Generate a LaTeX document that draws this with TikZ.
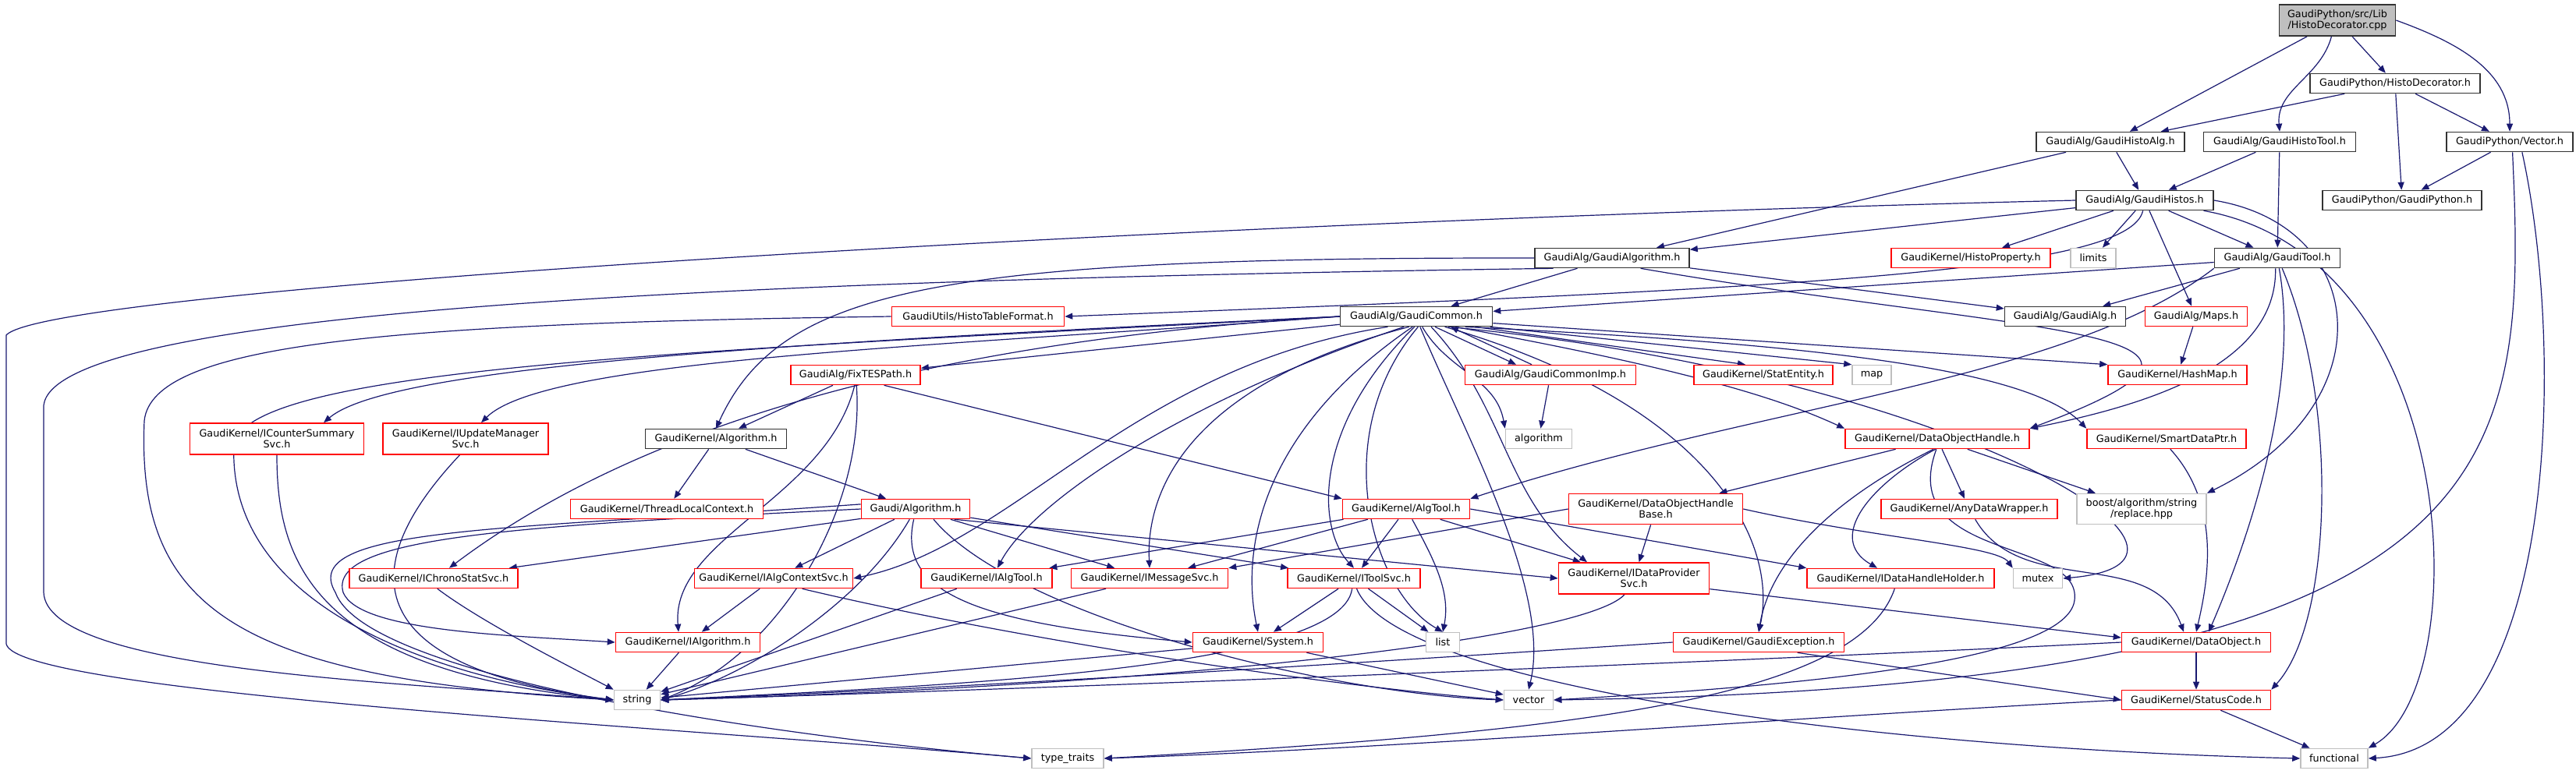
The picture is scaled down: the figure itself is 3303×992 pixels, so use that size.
\documentclass[tikz,border=0pt]{standalone}
\usepackage{fontspec}
\setmainfont{DejaVu Sans}
\usetikzlibrary{arrows.meta, backgrounds}
\definecolor{edgeblue}{HTML}{191970}
\definecolor{sysgray}{HTML}{BFBFBF}
\tikzset{
  hdr/.style={draw=red, line width=0.8pt, fill=white, inner sep=1pt, minimum height=12.5pt, align=center, font=\fontsize{6.4}{7.2}\selectfont},
  dochdr/.style={hdr, draw=black!80},
  syshdr/.style={hdr, draw=sysgray},
  roothdr/.style={hdr, draw=black!80, fill=sysgray},
  inc/.style={draw=edgeblue, line width=0.6pt, -{Triangle[length=5pt,width=4pt]}},
}

\begin{document}
\begin{tikzpicture}[x=0.5pt,y=-0.5pt]
            \useasboundingbox (0,0) rectangle (3303,992);
            \node[roothdr, minimum width=74.5pt, minimum height=20pt] (root) at (2997,26) {GaudiPython/src/Lib\\/HistoDecorator.cpp};
            \node[dochdr, minimum width=109pt] (hdec) at (3071,107) {GaudiPython/HistoDecorator.h};
            \node[dochdr, minimum width=95pt] (histoalg) at (2706,182) {GaudiAlg/GaudiHistoAlg.h};
            \node[dochdr, minimum width=97.5pt] (histotool) at (2923,182) {GaudiAlg/GaudiHistoTool.h};
            \node[dochdr, minimum width=81pt] (pyvector) at (3218,182) {GaudiPython/Vector.h};
            \node[dochdr, minimum width=88pt] (histos) at (2750,257) {GaudiAlg/GaudiHistos.h};
            \node[dochdr, minimum width=102pt] (gaudipy) at (3080,257) {GaudiPython/GaudiPython.h};
            \node[dochdr, minimum width=99pt] (galgorithm) at (2067,331) {GaudiAlg/GaudiAlgorithm.h};
            \node[hdr, minimum width=102pt] (histoprop) at (2527,331) {GaudiKernel/HistoProperty.h};
            \node[syshdr, minimum width=29pt] (limits) at (2684,331) {limits};
            \node[dochdr, minimum width=80.5pt] (gtool) at (2920,331) {GaudiAlg/GaudiTool.h};
            \node[hdr, minimum width=110.5pt] (histotab) at (1254,406) {GaudiUtils/HistoTableFormat.h};
            \node[dochdr, minimum width=97.5pt] (gcommon) at (1816,406) {GaudiAlg/GaudiCommon.h};
            \node[dochdr, minimum width=77.5pt] (galg) at (2648,406) {GaudiAlg/GaudiAlg.h};
            \node[hdr, minimum width=65.5pt] (maps) at (2816,406) {GaudiAlg/Maps.h};
            \node[hdr, minimum width=83pt] (fixtes) at (1097,481) {GaudiAlg/FixTESPath.h};
            \node[hdr, minimum width=109.5pt] (commonimp) at (1988,481) {GaudiAlg/GaudiCommonImp.h};
            \node[hdr, minimum width=89pt] (statentity) at (2261,481) {GaudiKernel/StatEntity.h};
            \node[syshdr, minimum width=25pt] (map) at (2400,481) {map};
            \node[hdr, minimum width=89pt] (hashmap) at (2792,481) {GaudiKernel/HashMap.h};
            \node[hdr, minimum width=111.5pt, minimum height=20pt] (icounter) at (355,563) {GaudiKernel/ICounterSummary\\Svc.h};
            \node[hdr, minimum width=106pt, minimum height=20pt] (iupdate) at (597,563) {GaudiKernel/IUpdateManager\\Svc.h};
            \node[dochdr, minimum width=90.5pt] (kalgorithm) at (918,563) {GaudiKernel/Algorithm.h};
            \node[syshdr, minimum width=42.5pt] (algorithm) at (1973,563) {algorithm};
            \node[hdr, minimum width=118pt] (dohandle) at (2484,563) {GaudiKernel/DataObjectHandle.h};
            \node[hdr, minimum width=102pt] (smartptr) at (2778,563) {GaudiKernel/SmartDataPtr.h};
            \node[hdr, minimum width=123.5pt] (tlc) at (855,653) {GaudiKernel/ThreadLocalContext.h};
            \node[hdr, minimum width=69.5pt] (galgo) at (1174,653) {Gaudi/Algorithm.h};
            \node[hdr, minimum width=81.5pt] (algtool) at (1803,653) {GaudiKernel/AlgTool.h};
            \node[hdr, minimum width=111.5pt, minimum height=19.5pt] (dohbase) at (2123,653) {GaudiKernel/DataObjectHandle\\Base.h};
            \node[hdr, minimum width=113pt] (anydata) at (2525,653) {GaudiKernel/AnyDataWrapper.h};
            \node[syshdr, minimum width=83pt, minimum height=19.5pt] (replace) at (2746,653) {boost/algorithm/string\\/replace.hpp};
            \node[hdr, minimum width=108pt] (ichrono) at (556,742) {GaudiKernel/IChronoStatSvc.h};
            \node[hdr, minimum width=101.5pt] (ialgctx) at (992,742) {GaudiKernel/IAlgContextSvc.h};
            \node[hdr, minimum width=84pt] (ialgtool) at (1265,742) {GaudiKernel/IAlgTool.h};
            \node[hdr, minimum width=100.5pt] (imsg) at (1474,742) {GaudiKernel/IMessageSvc.h};
            \node[hdr, minimum width=85pt] (itoolsvc) at (1736,742) {GaudiKernel/IToolSvc.h};
            \node[hdr, minimum width=96.5pt, minimum height=20pt] (idataprov) at (2095,742) {GaudiKernel/IDataProvider\\Svc.h};
            \node[hdr, minimum width=120pt] (idhh) at (2437,742) {GaudiKernel/IDataHandleHolder.h};
            \node[syshdr, minimum width=31.5pt] (mutex) at (2613,742) {mutex};
            \node[hdr, minimum width=92.5pt] (ialgorithm) at (882,824) {GaudiKernel/IAlgorithm.h};
            \node[hdr, minimum width=83.5pt] (system) at (1613,824) {GaudiKernel/System.h};
            \node[syshdr, minimum width=21.5pt] (list) at (1850,824) {list};
            \node[hdr, minimum width=109.5pt] (gexcept) at (2255,824) {GaudiKernel/GaudiException.h};
            \node[hdr, minimum width=95.5pt] (dataobj) at (2816,824) {GaudiKernel/DataObject.h};
            \node[syshdr, minimum width=29.5pt] (string) at (817,898) {string};
            \node[syshdr, minimum width=31.5pt] (vector) at (1960,898) {vector};
            \node[hdr, minimum width=95.5pt] (statuscode) at (2816,898) {GaudiKernel/StatusCode.h};
            \node[syshdr, minimum width=46pt] (typetraits) at (1369,973) {type\_traits};
            \node[syshdr, minimum width=43pt] (functional) at (2993,973) {functional};
            \begin{pgfonlayer}{background}
            \draw[inc] (root) -- (hdec);
            \draw[inc] (root) -- (histoalg);
            \draw[inc] (root.-110) to[out=-105,in=95] (histotool.north);
            \draw[inc] (root.east) to[out=-20,in=90] (pyvector.north);
            \draw[inc] (hdec) -- (histoalg);
            \draw[inc] (hdec) -- (pyvector);
            \draw[inc] (hdec) -- (gaudipy);
            \draw[inc] (histoalg) -- (histos);
            \draw[inc] (histoalg) -- (galgorithm);
            \draw[inc] (histotool) -- (histos);
            \draw[inc] (histotool) -- (gtool);
            \draw[inc] (pyvector) -- (gaudipy);
            \draw[inc] (pyvector.-75) .. controls (3240,600) and (3230,880) .. (vector.east);
            \draw[inc] (pyvector.-40) .. controls (3290,450) and (3280,960) .. (functional.east);
            \draw[inc] (histos) -- (galgorithm);
            \draw[inc] (histos) -- (histoprop);
            \draw[inc] (histos) -- (limits);
            \draw[inc] (histos) -- (gtool);
            \draw[inc] (histos) -- (maps);
            \draw[inc] (histos.-100) .. controls (2730,350) and (2300,370) .. (histotab.east);
            \draw[inc] (histos.west) .. controls (1500,285) and (60,370) .. (8,430) -- (8,826) .. controls (20,890) and (900,935) .. (typetraits.west);
            \draw[inc] (histos.east) .. controls (3040,290) and (3060,520) .. (replace.north east);
            \draw[inc] (histos.-10) .. controls (3160,330) and (3175,880) .. (functional.north east);
            \draw[inc] (galgorithm) -- (gcommon);
            \draw[inc] (galgorithm) -- (galg);
            \draw[inc] (galgorithm.west) .. controls (1200,330) and (1000,370) .. (kalgorithm.north);
            \draw[inc] (galgorithm.-20) .. controls (2600,430) and (2950,420) .. (dohandle.north east);
            \draw[inc] (galgorithm.190) .. controls (900,360) and (70,400) .. (56,520) -- (56,760) .. controls (60,860) and (500,875) .. (string.west);
            \draw[inc] (gtool) -- (gcommon);
            \draw[inc] (gtool) -- (galg);
            \draw[inc] (gtool.south west) .. controls (2650,490) and (2250,520) .. (algtool.north east);
            \draw[inc] (gtool.-100) .. controls (2920,470) and (2750,520) .. (dohandle.north east);
            \draw[inc] (gtool.-80) .. controls (2950,500) and (2880,700) .. ([xshift=8pt]dataobj.north);
            \draw[inc] (gtool.-65) .. controls (3000,520) and (2990,800) .. (statuscode.north east);
            \draw[inc] (maps) -- (hashmap);
            \draw[inc] (histotab.west) .. controls (500,415) and (195,440) .. (185,540) .. controls (175,780) and (300,870) .. (string.west);
            \draw[inc] (gcommon) -- (fixtes);
            \draw[inc] ([xshift=12pt]gcommon.south) -- ([xshift=-22pt]commonimp.north);
            \draw[inc] ([xshift=-12pt]commonimp.north) -- ([xshift=22pt]gcommon.south);
            \draw[inc] (gcommon.-10) -- (statentity.150);
            \draw[inc] (gcommon.-8) -- (map.north west);
            \draw[inc] (gcommon.-5) -- (hashmap.north west);
            \draw[inc] (gcommon.-15) .. controls (2200,480) and (2300,520) .. (dohandle.north west);
            \draw[inc] (gcommon.-12) .. controls (2300,440) and (2600,470) .. (smartptr.north west);
            \draw[inc] (gcommon.-60) to[out=-60,in=100] (algorithm.north west);
            \draw[inc] (commonimp) -- (algorithm);
            \draw[inc] (gcommon.west) .. controls (1000,440) and (500,470) .. ([xshift=30pt]icounter.north);
            \draw[inc] (gcommon.west) .. controls (1200,445) and (700,460) .. ([xshift=10pt]iupdate.north);
            \draw[inc] (gcommon.west) .. controls (1150,440) and (800,560) .. ([xshift=10pt]ichrono.north);
            \draw[inc] (gcommon.-160) .. controls (1450,470) and (1300,700) .. (ialgctx.east);
            \draw[inc] (gcommon.-140) .. controls (1500,520) and (1320,650) .. ([xshift=7pt]ialgtool.north);
            \draw[inc] (gcommon.-125) .. controls (1500,500) and (1470,650) .. (imsg.north);
            \draw[inc] (gcommon.-110) .. controls (1620,550) and (1590,700) .. (system.north);
            \draw[inc] (gcommon.-100) .. controls (1680,550) and (1690,680) .. (itoolsvc.north);
            \draw[inc] (gcommon.-80) .. controls (1700,560) and (1760,760) .. (list.north);
            \draw[inc] (gcommon.-70) .. controls (1880,560) and (1990,760) .. (vector.north);
            \draw[inc] (gcommon.west) .. controls (900,450) and (320,470) .. (300,570) .. controls (290,780) and (560,870) .. (string.west);
            \draw[inc] (gcommon.-35) .. controls (1930,520) and (1930,640) .. ([xshift=-30pt]idataprov.north);
            \draw[inc] (gcommon.-20) .. controls (2200,520) and (2280,700) .. (gexcept.north);
            \draw[inc] (gcommon.-18) .. controls (2500,480) and (2900,720) .. (mutex.east);
            \draw[inc] (fixtes) -- (kalgorithm);
            \draw[inc] (fixtes.-20) -- (algtool.north west);
            \draw[inc] (fixtes.-95) .. controls (1060,640) and (860,690) .. ([xshift=-6pt]ialgorithm.north);
            \draw[inc] (fixtes.-85) .. controls (1110,650) and (1000,840) .. (string.east);
            \draw[inc] (kalgorithm) -- (tlc);
            \draw[inc] (kalgorithm) -- (galgo);
            \draw[inc] (galgo.190) -- ([xshift=-6pt]ichrono.north east);
            \draw[inc] (galgo) -- (ialgctx);
            \draw[inc] (galgo) -- (imsg);
            \draw[inc] (galgo) -- (itoolsvc);
            \draw[inc] (galgo.-15) -- (idataprov.west);
            \draw[inc] (galgo.-100) .. controls (1150,760) and (1250,800) .. (system.west);
            \draw[inc] (galgo.-120) .. controls (1100,780) and (950,870) .. (string.east);
            \draw[inc] (galgo.-30) .. controls (1300,790) and (1700,890) .. (vector.west);
            \draw[inc] (galgo.175) .. controls (650,680) and (380,675) .. (430,760) .. controls (470,870) and (1000,945) .. (typetraits.west);
            \draw[inc] (galgo.180) .. controls (650,675) and (420,690) .. (440,760) .. controls (460,810) and (650,815) .. (ialgorithm.west);
            \draw[inc] (algtool) -- (ialgtool);
            \draw[inc] (algtool) -- (imsg);
            \draw[inc] (algtool) -- (itoolsvc);
            \draw[inc] (algtool.-60) .. controls (1840,720) and (1860,760) .. (list.north);
            \draw[inc] (algtool) -- (idataprov);
            \draw[inc] (algtool.east) -- (idhh.north west);
            \draw[inc] (dohandle) -- (dohbase);
            \draw[inc] (dohandle) -- (anydata);
            \draw[inc] (dohandle) -- (replace);
            \draw[inc] (dohandle.-100) .. controls (2400,620) and (2340,690) .. ([xshift=-15pt]idhh.north);
            \draw[inc] (dohandle.-110) .. controls (2350,640) and (2270,720) .. (gexcept.north);
            \draw[inc] (dohandle.-95) .. controls (2430,720) and (2670,690) .. (2660,770) .. controls (2650,850) and (2300,880) .. (vector.east);
            \draw[inc] (dohbase) -- (idataprov);
            \draw[inc] (dohbase.east) .. controls (2400,690) and (2560,700) .. (mutex.north west);
            \draw[inc] (dohbase.west) -- (imsg.north east);
            \draw[inc] (anydata.-60) to[out=-60,in=110] ([xshift=-8pt]dataobj.north);
            \draw[inc] (smartptr.-70) .. controls (2850,650) and (2830,750) .. (dataobj.north);
            \draw[inc] (idataprov.-8) -- ([yshift=3pt]dataobj.west);
            \draw[inc] (idataprov.-120) .. controls (2030,820) and (1500,880) .. (string.east);
            \draw[inc] (idhh.-120) .. controls (2380,900) and (2000,940) .. (typetraits.east);
            \draw[inc] (gexcept.-15) -- (statuscode.west);
            \draw[inc] (gexcept.west) .. controls (1900,840) and (1300,880) .. (string.east);
            \draw[inc] (dataobj) -- (statuscode);
            \draw[inc] (dataobj.west) .. controls (2200,850) and (1300,885) .. (string.east);
            \draw[inc] (statuscode) -- (functional);
            \draw[inc] (statuscode.west) .. controls (2300,920) and (1800,960) .. (typetraits.east);
            \draw[inc] (ialgctx) -- (ialgorithm);
            \draw[inc] (ialgctx.-20) .. controls (1300,820) and (1700,880) .. (vector.west);
            \draw[inc] (ichrono.-70) .. controls (620,800) and (740,860) .. (string.north west);
            \draw[inc] (ialgorithm) -- (string);
            \draw[inc] (ialgtool) -- (string);
            \draw[inc] (imsg) -- (string);
            \draw[inc] (itoolsvc) -- (system);
            \draw[inc] (itoolsvc) -- (list);
            \draw[inc] (itoolsvc.-100) .. controls (1720,860) and (1200,880) .. (string.east);
            \draw[inc] (itoolsvc.-75) .. controls (1790,880) and (2400,960) .. (functional.west);
            \draw[inc] (system) -- (string);
            \draw[inc] (system) -- (vector);
            \draw[inc] (icounter.south) .. controls (355,720) and (400,860) .. (string.west);
            \draw[inc] (iupdate.-110) .. controls (480,700) and (420,850) .. (string.west);
            \end{pgfonlayer}
        \end{tikzpicture}
\end{document}
